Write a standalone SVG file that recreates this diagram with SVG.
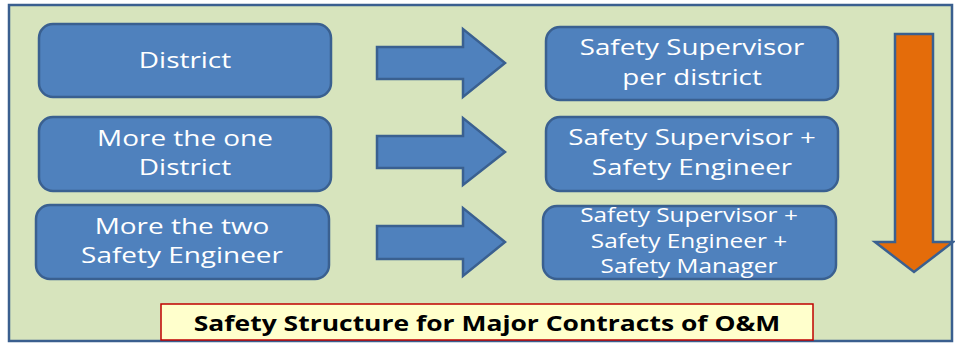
<svg xmlns="http://www.w3.org/2000/svg" width="955" height="343" viewBox="0 0 955 343">
<style>
.box{fill:#4f81bd;stroke:#3a6090;stroke-width:2.5}
.arr{fill:#4f81bd;stroke:#3a6090;stroke-width:2.5}
.t{font-family:"Open Sans","Liberation Sans",sans-serif;fill:#ffffff;font-size:22px;text-anchor:middle}
.s{font-size:19.5px}
.title{font-family:"Open Sans","Liberation Sans",sans-serif;font-weight:bold;font-size:21px;fill:#000;text-anchor:middle}
</style>
<rect x="9" y="5" width="943" height="336" fill="#d7e4bd" stroke="#3a5f8f" stroke-width="2.5"/>
<g id="n1"><rect class="box" x="39" y="24" width="292" height="73" rx="14"/><g transform="translate(185,0) scale(1.27,1)"><text class="t" x="0" y="68">District</text></g></g>
<g id="n2"><rect class="box" x="39" y="117" width="292" height="74" rx="14"/><g transform="translate(185,0) scale(1.27,1)"><text class="t" x="0" y="146">More the one</text><text class="t" x="0" y="175">District</text></g></g>
<g id="n3"><rect class="box" x="36" y="205" width="293" height="74" rx="14"/><g transform="translate(182,0) scale(1.27,1)"><text class="t" x="0" y="234">More the two</text><text class="t" x="0" y="263">Safety Engineer</text></g></g>
<g id="m1"><rect class="box" x="546" y="27" width="292" height="73" rx="14"/><g transform="translate(692,0) scale(1.26,1)"><text class="t" x="0" y="55">Safety Supervisor</text><text class="t" x="0" y="85">per district</text></g></g>
<g id="m2"><rect class="box" x="546" y="117" width="292" height="74" rx="14"/><g transform="translate(692,0) scale(1.26,1)"><text class="t" x="0" y="145">Safety Supervisor +</text><text class="t" x="0" y="175">Safety Engineer</text></g></g>
<g id="m3"><rect class="box" x="543" y="206" width="293" height="73" rx="14"/><g transform="translate(689,0) scale(1.25,1)"><text class="t s" x="0" y="222">Safety Supervisor +</text><text class="t s" x="0" y="248">Safety Engineer +</text><text class="t s" x="0" y="273">Safety Manager</text></g></g>
<g id="connectors">
<polygon class="arr" points="377,47 463,47 463,29 505,63 463,97 463,79 377,79"/>
<polygon class="arr" points="377,136 463,136 463,118 505,152 463,185 463,168 377,168"/>
<polygon class="arr" points="377,226 463,226 463,208 505,242 463,276 463,259 377,259"/>
<polygon points="895,34 933,34 933,242 953,242 914,272 875,242 895,242" fill="#e46c0a" stroke="#3a6090" stroke-width="2.5"/>
</g>
<g id="title"><rect x="161" y="304" width="652" height="36" fill="#ffffcc" stroke="#c00000" stroke-width="1.5"/><g transform="translate(487,0) scale(1.26,1)"><text class="title" x="0" y="331">Safety Structure for Major Contracts of O&amp;M</text></g></g>
</svg>
